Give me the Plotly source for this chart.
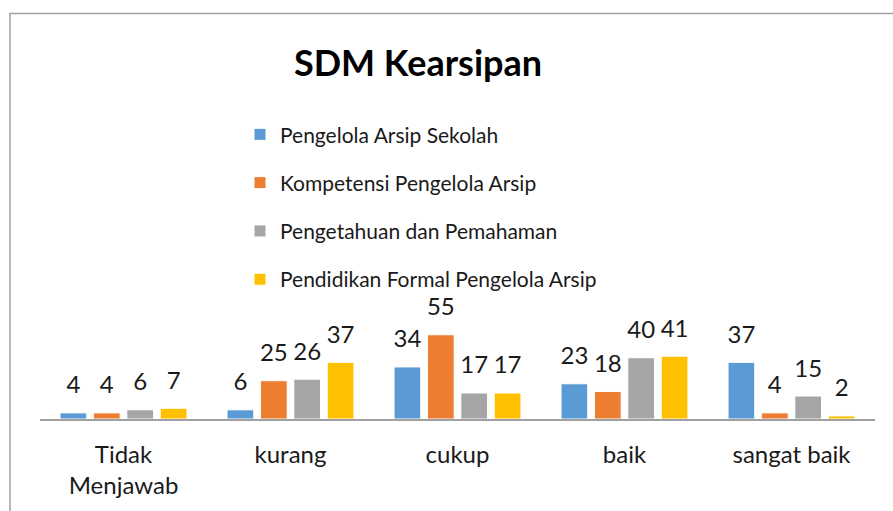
import plotly.graph_objects as go

categories = ["Tidak<br>Menjawab", "kurang", "cukup", "baik", "sangat baik"]
series_names = ["Pengelola Arsip Sekolah", "Kompetensi Pengelola Arsip",
                "Pengetahuan dan Pemahaman", "Pendidikan Formal Pengelola Arsip"]
pengelola = [4, 6, 34, 23, 37]
kompetensi = [4, 25, 55, 18, 4]
pengetahuan = [6, 26, 17, 40, 15]
pendidikan = [7, 37, 17, 41, 2]
colors = ["#5B9BD5", "#ED7D31", "#A5A5A5", "#FFC000"]

series_values = [pengelola, kompetensi, pengetahuan, pendidikan]
FONT = "Lato"

fig = go.Figure()
for i, (name, vals, col) in enumerate(zip(series_names, series_values, colors)):
    fig.add_trace(go.Bar(
        x=categories, y=vals, name=name, marker_color=col,
        marker_line=dict(color="white", width=1),
        offsetgroup=str(i), legendgroup=str(i),
    ))
for i, vals in enumerate(series_values):
    fig.add_trace(go.Scatter(
        x=categories, y=vals, mode="markers+text", text=[str(v) for v in vals],
        textposition="top center", marker=dict(size=20, opacity=0),
        textfont=dict(family=FONT, size=24, color="#1a1a1a"),
        offsetgroup=str(i), showlegend=False, hoverinfo="skip", cliponaxis=False,
    ))

W, H = 893, 511
L, R, T, B = 40, 18, 200, 89
pw, ph = W - L - R, H - T - B

def px(xp):
    return (xp - L) / pw

def py(yp):
    return (H - B - yp) / ph

fig.update_layout(
    width=W, height=H,
    margin=dict(l=L, r=R, t=T, b=B),
    paper_bgcolor="white", plot_bgcolor="white",
    barmode="group", bargap=0.2, bargroupgap=0.2,
    scattermode="group", scattergap=0.2,
    font=dict(family=FONT, color="#1a1a1a"),
    title=dict(text="<b>SDM Kearsipan</b>", xref="container", x=418 / W, xanchor="center",
               yref="container", y=1 - 63 / H, yanchor="middle",
               font=dict(family=FONT, size=36, color="black")),
    legend=dict(x=px(240), y=py(113), xanchor="left", yanchor="top",
                font=dict(family=FONT, size=21, color="#1a1a1a"),
                tracegroupgap=18, bgcolor="rgba(0,0,0,0)"),
    showlegend=True,
    xaxis=dict(showline=True, linecolor="#A0A0A0", linewidth=1.5,
               showgrid=False, ticks="", ticklabelstandoff=13,
               tickfont=dict(family=FONT, size=24, color="#1a1a1a")),
    yaxis=dict(range=[0, 143], visible=False, showgrid=False, zeroline=False),
    shapes=[dict(type="rect", xref="paper", yref="paper",
                 x0=px(10), x1=px(W + 20), y0=py(H + 20), y1=py(11),
                 line=dict(color="#A0A0A0", width=1.5), layer="below")],
)

fig.write_html("out.html", config={"displayModeBar": False},
               post_script="document.body.style.margin='0';document.body.style.overflow='hidden';")
